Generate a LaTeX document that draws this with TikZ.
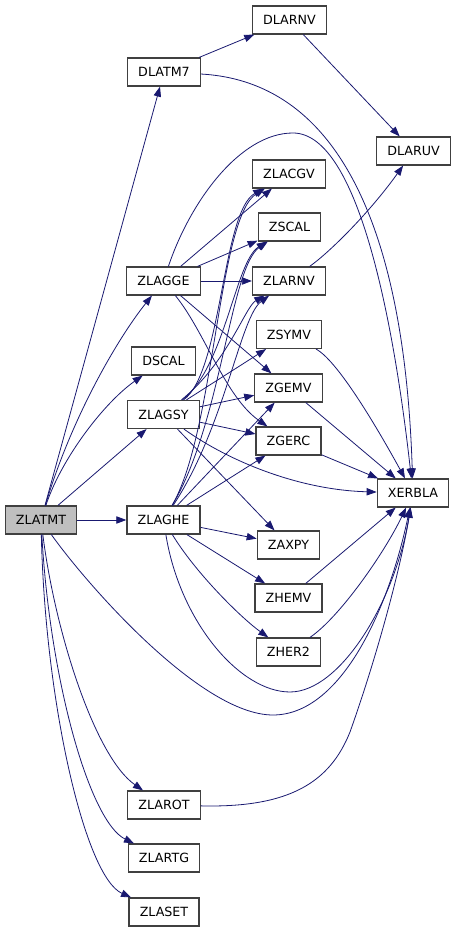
\documentclass[tikz,border=0pt]{standalone}
\usepackage{fontspec}
\setmainfont{DejaVu Sans}
\usetikzlibrary{arrows.meta}
\definecolor{callblue}{HTML}{191970}
\definecolor{framegray}{HTML}{404040}
\definecolor{rootgray}{HTML}{BFBFBF}

\begin{document}
\begin{tikzpicture}[x=0.75pt, y=0.75pt,
    fn/.style={draw=framegray, line width=0.9pt, fill=white, minimum height=21pt,
        inner xsep=8pt, font=\fontsize{9.5}{11}\selectfont},
    root/.style={fn, fill=rootgray},
    call/.style={callblue, line width=0.6pt, -{Triangle[length=7.5pt, width=5.5pt]}}]
    \useasboundingbox (0,0) rectangle (456,932);

    % Caller
    \node[root] (zlatmt) at (41,412) {ZLATMT};

    % Second column
    \node[fn] (dlatm7) at (164,860) {DLATM7};
    \node[fn] (zlagge) at (163.5,651) {ZLAGGE};
    \node[fn] (dscal) at (163.5,571) {DSCAL};
    \node[fn] (zlagsy) at (163.5,517.5) {ZLAGSY};
    \node[fn] (zlaghe) at (163.5,412) {ZLAGHE};
    \node[fn] (zlarot) at (164,127) {ZLAROT};
    \node[fn] (zlartg) at (164,74) {ZLARTG};
    \node[fn] (zlaset) at (164,20) {ZLASET};

    % Third column
    \node[fn] (dlarnv) at (289.5,912) {DLARNV};
    \node[fn] (zlacgv) at (289,758) {ZLACGV};
    \node[fn] (zscal) at (289.5,705) {ZSCAL};
    \node[fn] (zlarnv) at (289,651) {ZLARNV};
    \node[fn] (zsymv) at (289,597.5) {ZSYMV};
    \node[fn] (zgemv) at (288.5,544) {ZGEMV};
    \node[fn] (zgerc) at (288.5,491) {ZGERC};
    \node[fn] (zaxpy) at (288.5,387) {ZAXPY};
    \node[fn] (zhemv) at (288.5,334) {ZHEMV};
    \node[fn] (zher2) at (288.5,280) {ZHER2};

    % Last column
    \node[fn] (dlaruv) at (413.5,781) {DLARUV};
    \node[fn] (xerbla) at (413,439) {XERBLA};

    % Calls from ZLATMT
    \draw[call] (zlatmt) -- (dlatm7);
    \draw[call] (zlatmt) .. controls (62,475) and (105,530) .. (dscal);
    \draw[call] (zlatmt) .. controls (70,510) and (115,590) .. (zlagge);
    \draw[call] (zlatmt) -- (zlagsy);
    \draw[call] (zlatmt) -- (zlaghe);
    \draw[call] (zlatmt) .. controls (85,350) and (200,217) .. (273,217)
        .. controls (340,217) and (388,320) .. (xerbla);
    \draw[call] (zlatmt) .. controls (55,300) and (95,175) .. (zlarot);
    \draw[call] (zlatmt) .. controls (50,250) and (90,110) .. (zlartg);
    \draw[call] (zlatmt) .. controls (45,230) and (85,55) .. (zlaset);

    % DLATM7 and the random generators
    \draw[call] (dlatm7) -- (dlarnv);
    \draw[call] (dlatm7) .. controls (345,850) and (405,690) .. (xerbla);
    \draw[call] (dlarnv) -- (dlaruv);
    \draw[call] (zlarnv) .. controls (330,680) and (370,720) .. (dlaruv);

    % Calls from ZLAGGE
    \draw[call] (zlagge) .. controls (190,730) and (240,799) .. (293,799)
        .. controls (360,799) and (395,600) .. (xerbla);
    \draw[call] (zlagge) -- (zlacgv);
    \draw[call] (zlagge) -- (zscal);
    \draw[call] (zlagge) -- (zlarnv);
    \draw[call] (zlagge) -- (zgemv);
    \draw[call] (zlagge) .. controls (205,600) and (225,535) .. (zgerc);

    % Calls from ZLAGSY
    \draw[call] (zlagsy) .. controls (222,560) and (222,720) .. (zlacgv);
    \draw[call] (zlagsy) .. controls (225,565) and (235,670) .. (zscal);
    \draw[call] (zlagsy) .. controls (228,570) and (245,625) .. (zlarnv);
    \draw[call] (zlagsy) -- (zsymv);
    \draw[call] (zlagsy) -- (zgemv);
    \draw[call] (zlagsy) -- (zgerc);
    \draw[call] (zlagsy) .. controls (230,470) and (300,442) .. (xerbla);
    \draw[call] (zlagsy) -- (zaxpy);

    % Calls from ZLAGHE
    \draw[call] (zlaghe) .. controls (215,500) and (218,715) .. (zlacgv);
    \draw[call] (zlaghe) .. controls (222,510) and (230,665) .. (zscal);
    \draw[call] (zlaghe) .. controls (225,505) and (240,615) .. (zlarnv);
    \draw[call] (zlaghe) -- (zgemv);
    \draw[call] (zlaghe) -- (zgerc);
    \draw[call] (zlaghe) -- (zaxpy);
    \draw[call] (zlaghe) -- (zhemv);
    \draw[call] (zlaghe) .. controls (195,360) and (240,315) .. (zher2);
    \draw[call] (zlaghe) .. controls (180,310) and (240,240) .. (290,240)
        .. controls (340,240) and (395,330) .. (xerbla);

    % Into XERBLA
    \draw[call] (zsymv) .. controls (340,570) and (385,490) .. (xerbla);
    \draw[call] (zgemv) -- (xerbla);
    \draw[call] (zgerc) -- (xerbla);
    \draw[call] (zhemv) -- (xerbla);
    \draw[call] (zher2) .. controls (340,315) and (385,380) .. (xerbla);
    \draw[call] (zlarot) .. controls (290,124) and (330,150) .. (350,200)
        .. controls (375,270) and (400,360) .. (xerbla);
\end{tikzpicture}
\end{document}
